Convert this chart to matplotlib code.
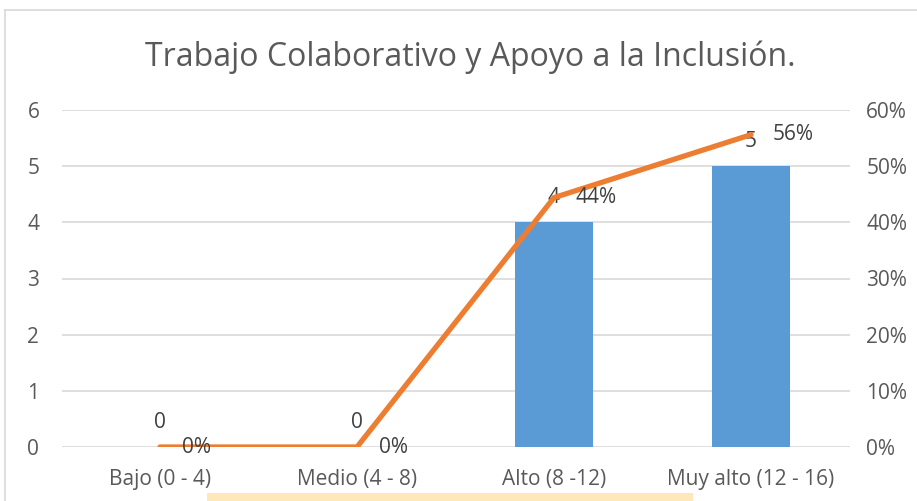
import matplotlib
matplotlib.use("Agg")
import matplotlib.pyplot as plt
from matplotlib.patches import Rectangle
from matplotlib.lines import Line2D

categories = ["Bajo (0 - 4)", "Medio (4 - 8)", "Alto (8 -12)", "Muy alto (12 - 16)"]
counts = [0, 0, 4, 5]
percents = [0.0, 0.0, 0.444, 0.556]
pct_labels = ["0%", "0%", "44%", "56%"]
left_ticks = [0, 1, 2, 3, 4, 5, 6]
right_ticks = [0.0, 0.1, 0.2, 0.3, 0.4, 0.5, 0.6]
right_tick_labels = ["0%", "10%", "20%", "30%", "40%", "50%", "60%"]
title = "Trabajo Colaborativo y Apoyo a la Inclusión."

plt.rcParams['font.family'] = ['Open Sans', 'DejaVu Sans']
W, H = 917, 501
fig = plt.figure(figsize=(W/100, H/100), dpi=100)
fig.patch.set_facecolor("white")

# chart border
fig.add_artist(Line2D([5/W, 5/W], [0, 1 - 10/H], color="#D9D9D9", lw=1.2, transform=fig.transFigure))
fig.add_artist(Line2D([5/W, 1], [1 - 10/H, 1 - 10/H], color="#D9D9D9", lw=1.2, transform=fig.transFigure))

ax_l, ax_r = 61.5/W, 849.5/W
ax_b, ax_t = 1 - 447/H, 1 - 110/H
ax = fig.add_axes([ax_l, ax_b, ax_r - ax_l, ax_t - ax_b])
ax2 = ax.twinx()

x = list(range(len(categories)))
ax.bar(x, counts, width=0.396, color="#5B9BD5", zorder=2)
ax.set_xlim(-0.5, 3.5)
ax.set_ylim(0, 6)
ax.set_yticks(left_ticks)
ax.set_xticks(x)
ax.set_xticklabels(categories)
ax.grid(axis="y", color="#D9D9D9", lw=1.2, zorder=0)
ax.set_axisbelow(True)
for s in ax.spines.values():
    s.set_visible(False)
for s in ax2.spines.values():
    s.set_visible(False)
ax.tick_params(axis="both", length=0, colors="#595959", labelsize=15)
ax.tick_params(axis="y", pad=16)
ax.tick_params(axis="x", pad=16)

ax2.plot(x, percents, color="#ED7D31", lw=3.8, solid_capstyle="round", solid_joinstyle="miter", zorder=3)
ax2.set_ylim(0, 0.6)
ax2.set_yticks(right_ticks)
ax2.set_yticklabels(right_tick_labels)
ax2.tick_params(axis="y", length=0, colors="#595959", labelsize=15, pad=12)

for xi, c in zip(x, counts):
    ax.annotate(str(c), (xi, c), xytext=(0, 25), textcoords="offset pixels",
                ha="center", va="center", fontsize=15, color="#404040", zorder=5)
for xi, p, lab in zip(x, percents, pct_labels):
    ax2.annotate(lab, (xi, p), xytext=(22, 0), textcoords="offset pixels",
                 ha="left", va="center", fontsize=15, color="#404040", zorder=5)

fig.text(470/W, 1 - 57/H, title, ha="center", va="center",
         fontsize=23, color="#595959")

fig.add_artist(Rectangle((207/W, 0), (693 - 207)/W, 8/H, transform=fig.transFigure,
                         facecolor="#FEE7B9", edgecolor="none"))

fig.savefig("out.png", dpi=100)
